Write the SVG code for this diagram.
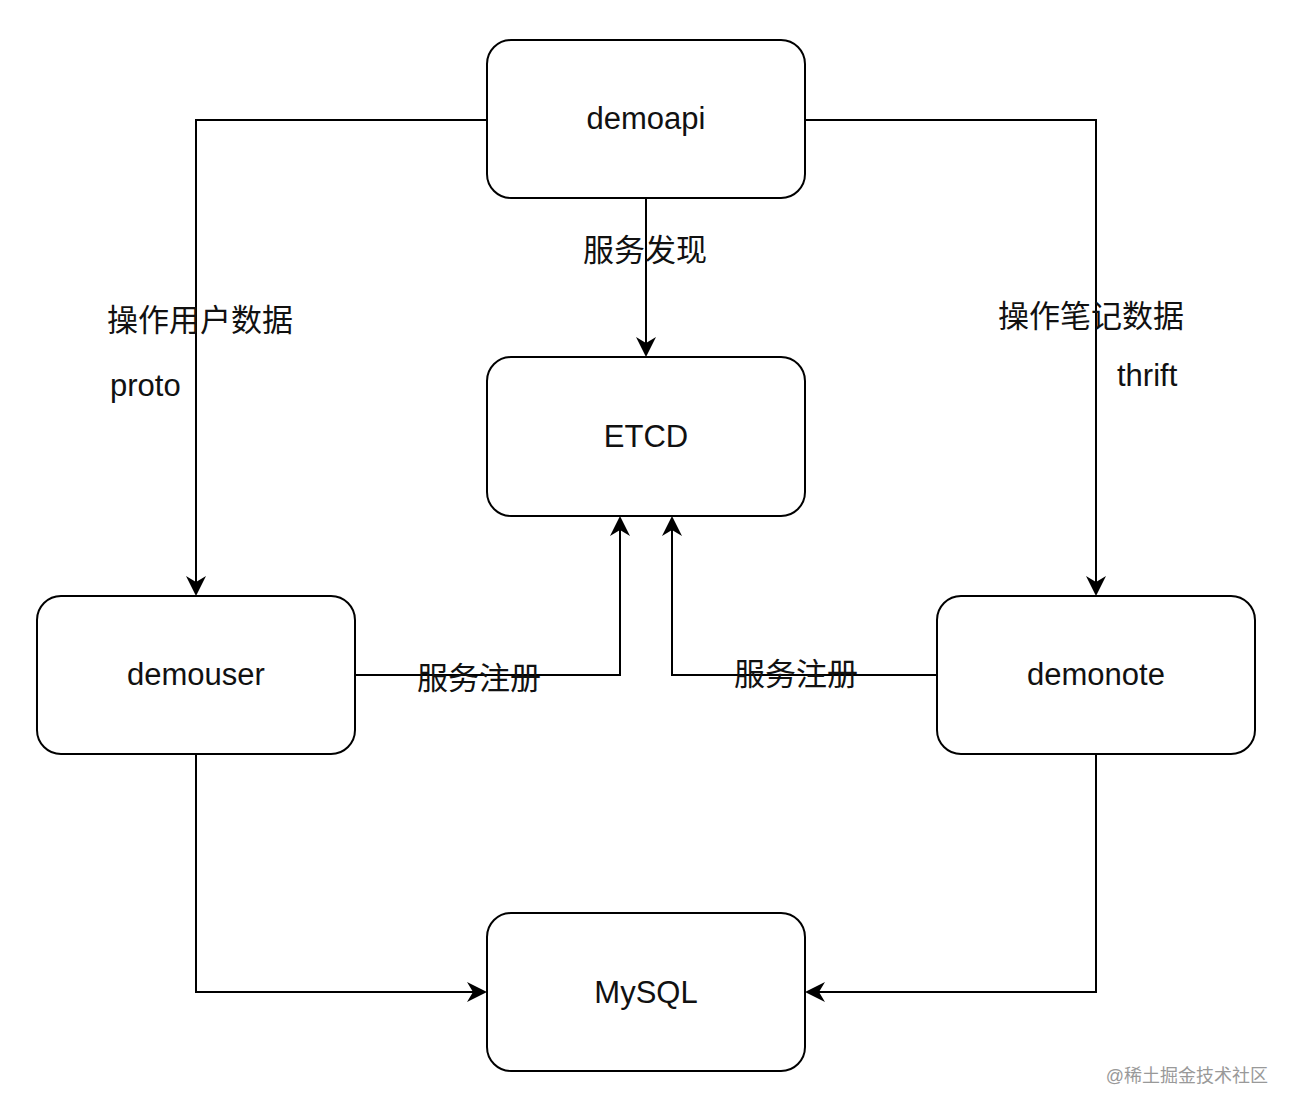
<svg xmlns="http://www.w3.org/2000/svg" width="1296" height="1114" viewBox="0 0 1296 1114">
<style>
.n{fill:#fff;stroke:#000;stroke-width:2}
.t{font-family:"Liberation Sans","Noto Sans CJK SC",sans-serif;font-size:31px;fill:#111;text-anchor:middle;dominant-baseline:central}
.l{font-family:"Liberation Sans","Noto Sans CJK SC",sans-serif;font-size:31px;fill:#111}
.c{fill:none;stroke:#000;stroke-width:2}
</style>
<defs><marker id="a" viewBox="0 0 10 10" refX="9" refY="5" markerWidth="20" markerHeight="20" markerUnits="userSpaceOnUse" orient="auto"><path d="M0,0 L10,5 L0,10 L3,5 Z" fill="#000"/></marker></defs>
<rect width="1296" height="1114" fill="#fff"/>
<g id="connectors">
<path class="c" d="M487,120 H196 V594" marker-end="url(#a)"/>
<path class="c" d="M805,120 H1096 V594" marker-end="url(#a)"/>
<path class="c" d="M646,198 V355" marker-end="url(#a)"/>
<path class="c" d="M355,675 H620 V518" marker-end="url(#a)"/>
<path class="c" d="M937,675 H672 V518" marker-end="url(#a)"/>
<path class="c" d="M196,754 V992 H485" marker-end="url(#a)"/>
<path class="c" d="M1096,754 V992 H807" marker-end="url(#a)"/>
<text class="l" x="583" y="261">服务发现</text>
<text class="l" x="107" y="331">操作用户数据</text>
<text class="l" x="110" y="396">proto</text>
<text class="l" x="998" y="327">操作笔记数据</text>
<text class="l" x="1117" y="386">thrift</text>
<text class="l" x="417" y="689">服务注册</text>
<text class="l" x="734" y="685">服务注册</text>
</g>
<g id="demoapi"><rect class="n" x="487" y="40" width="318" height="158" rx="24"/><text class="t" x="646" y="118">demoapi</text></g>
<g id="etcd"><rect class="n" x="487" y="357" width="318" height="159" rx="24"/><text class="t" x="646" y="436">ETCD</text></g>
<g id="demouser"><rect class="n" x="37" y="596" width="318" height="158" rx="24"/><text class="t" x="196" y="674">demouser</text></g>
<g id="demonote"><rect class="n" x="937" y="596" width="318" height="158" rx="24"/><text class="t" x="1096" y="674">demonote</text></g>
<g id="mysql"><rect class="n" x="487" y="913" width="318" height="158" rx="24"/><text class="t" x="646" y="992">MySQL</text></g>
<text x="1268" y="1082" font-family="Liberation Sans,Noto Sans CJK SC,sans-serif" font-size="18" fill="#999" text-anchor="end">@稀土掘金技术社区</text>
</svg>
